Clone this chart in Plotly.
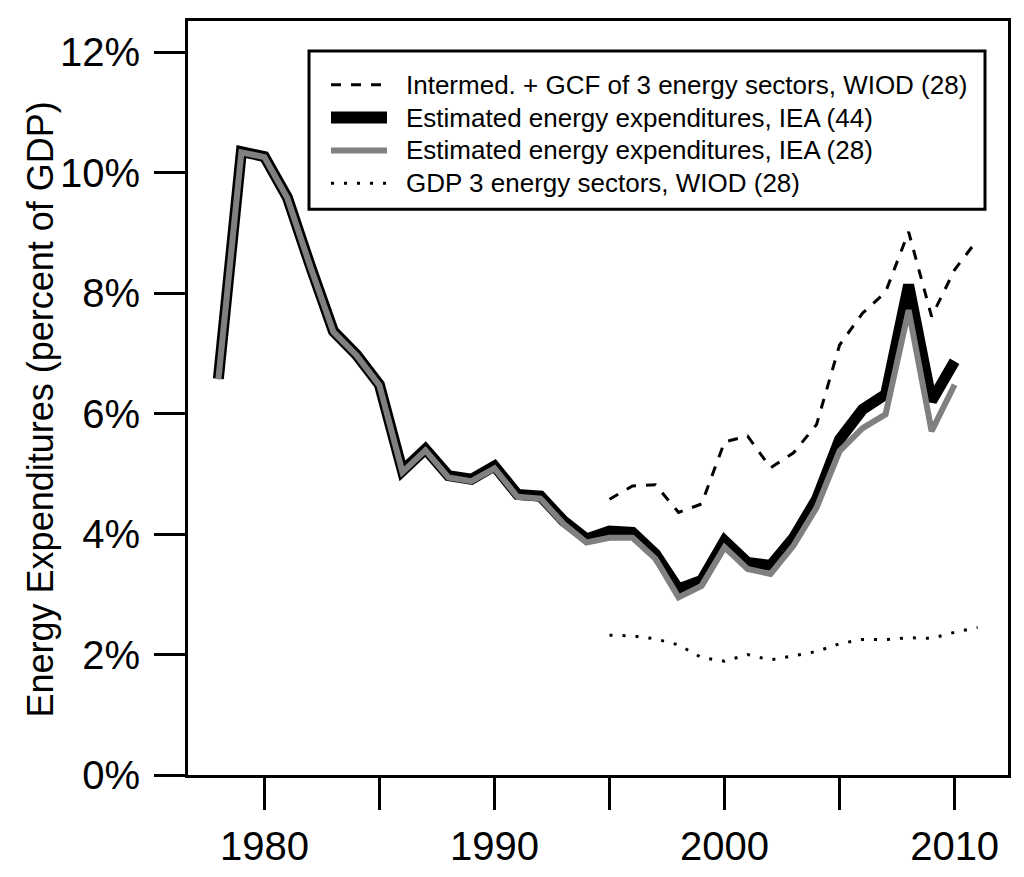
import plotly.graph_objects as go

# ---- data (percent of GDP) ----
years_iea = list(range(1978, 2011))
iea44 = [6.58, 10.35, 10.27, 9.59, 8.45, 7.37, 6.98, 6.48, 5.05, 5.41,
         4.97, 4.91, 5.13, 4.66, 4.63, 4.22, 3.92, 4.05, 4.03, 3.67,
         3.09, 3.23, 3.89, 3.53, 3.48, 3.94, 4.58, 5.57, 6.07, 6.32,
         8.14, 6.21, 6.87]
iea28 = [6.57, 10.34, 10.26, 9.58, 8.44, 7.36, 6.97, 6.47, 5.03, 5.39,
         4.94, 4.88, 5.09, 4.62, 4.59, 4.17, 3.86, 3.94, 3.94, 3.59,
         2.95, 3.14, 3.78, 3.42, 3.34, 3.81, 4.44, 5.38, 5.76, 5.99,
         7.72, 5.71, 6.48]
years_wiod = list(range(1995, 2012))
wiod_intermed = [4.58, 4.80, 4.82, 4.36, 4.50, 5.53, 5.63, 5.10, 5.35, 5.82,
                 7.14, 7.67, 8.02, 9.02, 7.61, 8.39, 8.89]
wiod_gdp = [2.32, 2.31, 2.26, 2.16, 1.95, 1.89, 2.00, 1.91, 1.98, 2.05,
            2.18, 2.25, 2.25, 2.28, 2.27, 2.37, 2.45]

x_tickvals = [1980, 1985, 1990, 1995, 2000, 2005, 2010]
x_ticktext = ["1980", "", "1990", "", "2000", "", "2010"]
y_tickvals = [0, 2, 4, 6, 8, 10, 12]
y_ticktext = ["0%", "2%", "4%", "6%", "8%", "10%", "12%"]

names = ["Intermed. + GCF of 3 energy sectors, WIOD (28)",
         "Estimated energy expenditures, IEA (44)",
         "Estimated energy expenditures, IEA (28)",
         "GDP 3 energy sectors, WIOD (28)"]

FONT = "Liberation Sans, Arial, sans-serif"

styles = [dict(color="black", width=3, dash="10px,10px"),
          dict(color="black", width=11),
          dict(color="#808080", width=6),
          dict(color="black", width=3, dash="3px,10px")]

fig = go.Figure()
fig.add_trace(go.Scatter(x=years_wiod, y=wiod_intermed, mode="lines", name=names[0],
                         line=styles[0]))
fig.add_trace(go.Scatter(x=years_iea, y=iea44, mode="lines", name=names[1],
                         line=styles[1]))
fig.add_trace(go.Scatter(x=years_iea, y=iea28, mode="lines", name=names[2],
                         line=styles[2]))
fig.add_trace(go.Scatter(x=years_wiod, y=wiod_gdp, mode="lines", name=names[3],
                         line=styles[3]))

# the page body adds an 8px offset; plot area on screen spans x 188..1008, y 18..775
OFF = 8
W, H = 1024, 877
X0, X1, Y0, Y1 = 188, 1008, 18, 775
L, T = X0 - OFF, Y0 - OFF
R = (W + OFF) - X1
B = (H + OFF) - Y1
pw, ph = X1 - X0, Y1 - Y0

def px_x(p):
    return (p - X0) / pw

def px_y(p):
    return (Y1 - p) / ph

# legend (framed key with real text)
shapes = [dict(type="rect", xref="paper", yref="paper",
               x0=px_x(309), x1=px_x(985), y0=px_y(207), y1=px_y(48),
               line=dict(color="black", width=3), fillcolor="white",
               layer="above")]
annotations = []
row0, row_gap = 82, 33
for i, (nm, st) in enumerate(zip(names, styles)):
    ry = row0 + i * row_gap
    shapes.append(dict(type="line", xref="paper", yref="paper",
                       x0=px_x(331), x1=px_x(387), y0=px_y(ry), y1=px_y(ry),
                       line=dict(color=st["color"], width=st["width"] + (1 if i == 1 else 0),
                                 dash=st.get("dash", "solid")),
                       layer="above"))
    annotations.append(dict(text=nm, xref="paper", yref="paper",
                            x=px_x(404), y=px_y(ry), xanchor="left", yanchor="middle",
                            showarrow=False, font=dict(size=26, family=FONT)))

annotations.append(dict(text="Energy Expenditures (percent of GDP)", xref="paper", yref="paper",
                        x=px_x(40), y=px_y(408), xanchor="center", yanchor="middle",
                        textangle=-90, showarrow=False, font=dict(size=36, family=FONT)))

fig.update_layout(
    width=W, height=H,
    margin=dict(l=L, r=R, t=T, b=B, pad=0),
    paper_bgcolor="white", plot_bgcolor="white",
    font=dict(family=FONT, color="black"),
    showlegend=False,
    xaxis=dict(range=[1976.68, 2012.32], tickvals=x_tickvals, ticktext=x_ticktext,
               ticks="outside", ticklen=32, tickwidth=3, tickcolor="black",
               showline=True, linewidth=3, linecolor="black", mirror=True,
               showgrid=False, zeroline=False, tickfont=dict(size=40),
               ticklabelstandoff=2),
    yaxis=dict(range=[0, 12.52], tickvals=y_tickvals, ticktext=y_ticktext,
               ticks="outside", ticklen=31, tickwidth=3, tickcolor="black",
               showline=True, linewidth=3, linecolor="black", mirror=True,
               showgrid=False, zeroline=False, tickfont=dict(size=40),
               ticklabelstandoff=6),
    shapes=shapes,
    annotations=annotations,
)

fig.write_html("out.html")
